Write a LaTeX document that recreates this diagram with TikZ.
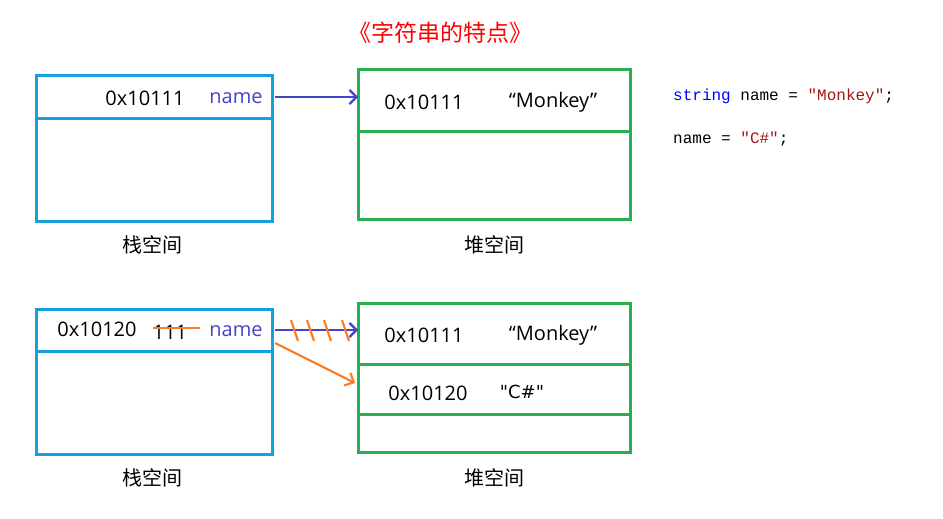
\documentclass[tikz,border=0pt]{standalone}
\usepackage{fontspec}
\setmainfont{Open Sans}
\newfontfamily\cjk{Noto Sans CJK SC}
\newfontfamily\codefont{Liberation Mono}
\newfontfamily\plainsans[Ligatures=ResetAll]{DejaVu Sans}
\usetikzlibrary{arrows.meta}
\definecolor{sblue}{RGB}{22,160,220}
\definecolor{hgreen}{RGB}{40,175,80}
\definecolor{nblue}{RGB}{68,68,200}
\definecolor{orng}{RGB}{250,125,35}
\definecolor{kw}{RGB}{0,0,255}
\definecolor{str}{RGB}{163,21,21}
\begin{document}
\begin{tikzpicture}[x=1pt,y=-1pt,
 stack/.style={draw=sblue,line width=3pt},
 heap/.style={draw=hgreen,line width=3pt},
 txt/.style={font=\fontsize{20}{22}\selectfont,inner sep=0},
 lab/.style={font=\cjk\fontsize{20}{22}\selectfont,inner sep=0},
 code/.style={anchor=west,inner sep=0,font=\codefont\fontsize{16}{18}\selectfont},
 ptr/.style={draw=nblue,line width=2.2pt,-{Straight Barb[length=7pt,width=14pt]}},
 org/.style={draw=orng,line width=2.2pt}]
\useasboundingbox (0,0) rectangle (943,519);
\node[font=\cjk\fontsize{23}{25}\selectfont,text=red] (title) at (440,33) {《字符串的特点》};
% stack 1
\draw[stack] (36,76) rectangle (272,221);
\draw[stack] (36,118) -- (272,118);
\node[txt] (a1) at (145,98) {0x10111};
\node[txt,text=nblue] (n1) at (236,98) {name};
\node[lab] (s1) at (152,245) {栈空间};
% heap 1
\draw[heap] (358,70) rectangle (630,219);
\draw[heap] (358,131) -- (630,131);
\node[txt] (h1) at (424,102) {0x10111};
\node[txt] (m1) at (553,102) {“Monkey”};
\node[lab] (p1) at (494,245) {堆空间};
\coordinate (b1) at (275,97);
\coordinate (e1) at (358,97);
\draw[ptr] (b1) -- (e1);
% code
\node[code] (c1) at (673,96) {\textcolor{kw}{string} name = \textcolor{str}{"Monkey"};};
\node[code] (c2) at (673,139) {name = \textcolor{str}{"C\#"};};
% stack 2
\draw[stack] (36,309) rectangle (272,454);
\draw[stack] (36,351) -- (272,351);
\node[txt] (a2) at (97,329) {0x10120};
\node[txt] (o2) at (170,332) {111};
\node[txt,text=nblue] (n2) at (236,331) {name};
\draw[org] (153,328) -- (200,328);
\node[lab] (s2) at (152,478) {栈空间};
% heap 2
\draw[heap] (358,303) rectangle (630,452);
\draw[heap] (358,364) -- (630,364);
\draw[heap] (358,414) -- (630,414);
\node[txt] (h2) at (424,335) {0x10111};
\node[txt] (m2) at (553,335) {“Monkey”};
\node[txt] (h3) at (428,393) {0x10120};
\node[txt,font=\plainsans\fontsize{18}{22}\selectfont] (m3) at (522,392) {"C\#"};
\node[lab] (p2) at (494,478) {堆空间};
\coordinate (b2) at (275,330);
\coordinate (e2) at (358,330);
\draw[ptr] (b2) -- (e2);
\foreach \x in {291,307,324,342} \draw[org] (\x,320) -- (\x+7,341);
\coordinate (b3) at (275,343);
\coordinate (e3) at (355,383);
\draw[org,-{Straight Barb[length=7pt,width=14pt]}] (b3) -- (e3);
\end{tikzpicture}
\end{document}
